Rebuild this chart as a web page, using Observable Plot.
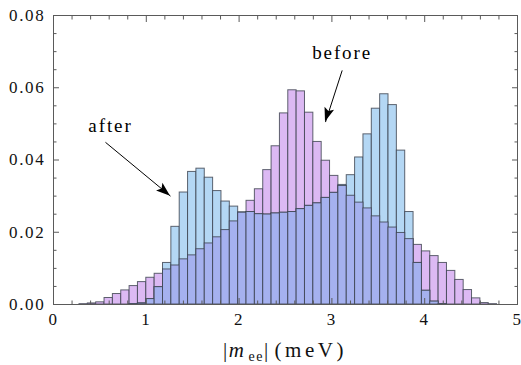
<!DOCTYPE html>
<html><head><meta charset="utf-8">
<script src="https://cdn.jsdelivr.net/npm/d3@7"></script>
<script src="https://cdn.jsdelivr.net/npm/@observablehq/plot@0.6"></script>
<style>body{margin:0;background:#fff;} svg text{font-family:"Liberation Serif","Times New Roman",serif !important;}</style>
</head><body><div id="chart"></div>
<script>
// Histogram bins (|m_ee| in meV)
const binStart = 0.28;
const binWidth = 0.09;
const before = [0.0001,0.0003,0.0006,0.0018,0.0029,0.0039,0.0051,0.0062,0.0074,0.0085,
  0.0097,0.0108,0.0125,0.0136,0.0153,0.0169,0.0186,0.0206,0.0230,0.0254,
  0.0287,0.0319,0.0372,0.0438,0.0529,0.0593,0.0590,0.0531,0.0450,0.0398,
  0.0356,0.0328,0.0301,0.0282,0.0266,0.0244,0.0227,0.0213,0.0198,0.0181,
  0.0165,0.0147,0.0134,0.0115,0.0093,0.0068,0.0040,0.0017,0.0004,0.0001];
const after = [0,0,0,0,0,0,0.0001,0.0003,0.0015,0.0048,
  0.0115,0.0215,0.0310,0.0367,0.0376,0.0351,0.0314,0.0285,0.0271,0.0255,
  0.0256,0.0250,0.0249,0.0252,0.0254,0.0256,0.0264,0.0273,0.0280,0.0295,
  0.0309,0.0331,0.0358,0.0407,0.0471,0.0542,0.0582,0.0552,0.0426,0.0256,
  0.0115,0.0038,0.0008,0.0001,0,0,0,0,0,0];

const xMajor = [0,1,2,3,4,5];
const xMinor = [0.2,0.4,0.6,0.8,1.2,1.4,1.6,1.8,2.2,2.4,2.6,2.8,3.2,3.4,3.6,3.8,4.2,4.4,4.6,4.8];
const yMajor = [0,0.02,0.04,0.06,0.08];
const yMinor = [0.005,0.01,0.015,0.025,0.03,0.035,0.045,0.05,0.055,0.065,0.07,0.075];

const annoText = ["after","before"];
const annoX = [0.614,3.11];
const annoY = [0.0494,0.0697];
const arrowX1 = [0.56,3.111];
const arrowY1 = [0.0449,0.0648];
const arrowX2 = [1.261,2.931];
const arrowY2 = [0.0300,0.0505];

const purple = "#dcb9f3", blue = "#b4d7f4", overlap = "#a5b1ef", edge = "#39404c";

const bins = before.map((b,i)=>({x1: binStart+i*binWidth, x2: binStart+(i+1)*binWidth, before: b, after: after[i], both: Math.min(b, after[i])}));
const annos = annoText.map((t,i)=>({text:t, x:annoX[i], y:annoY[i]}));
const arrows = arrowX1.map((x,i)=>({x1:x, y1:arrowY1[i], x2:arrowX2[i], y2:arrowY2[i]}));

const frameColor = "#5a5a5a";
const barOpts = {x1:"x1", x2:"x2", stroke: edge, strokeOpacity: 0.8, strokeWidth: 1};

const plot = Plot.plot({
  width: 521, height: 365,
  marginLeft: 53, marginRight: 4, marginTop: 15, marginBottom: 61,
  x: {domain:[0,5], axis:null},
  y: {domain:[0,0.08], axis:null},
  style: {fontFamily: "Liberation Serif", fontSize: "16px", color: "#111", background: "#fff"},
  marks: [
    Plot.rectY(bins, {...barOpts, y:"before", fill: purple, filter: d=>d.before>0}),
    Plot.rectY(bins, {...barOpts, y:"after", fill: blue, filter: d=>d.after>0}),
    Plot.rectY(bins, {...barOpts, y:"both", fill: overlap, filter: d=>d.both>0}),
    Plot.frame({stroke: frameColor}),
    Plot.axisX(xMajor, {anchor:"bottom", tickSize:-6, fill:"none", stroke: frameColor, label:null}),
    Plot.axisX(xMinor, {anchor:"bottom", tickSize:-3.5, fill:"none", stroke: frameColor, label:null}),
    Plot.axisX(xMajor, {anchor:"top", tickSize:-6, fill:"none", stroke: frameColor, label:null}),
    Plot.axisX(xMinor, {anchor:"top", tickSize:-3.5, fill:"none", stroke: frameColor, label:null}),
    Plot.axisX(xMajor, {anchor:"bottom", tickSize:0, tickPadding:8, label:null, tickFormat: d3.format("d"), fill:"#111", fontSize:17}),
    Plot.axisY(yMajor, {anchor:"left", tickSize:-6, fill:"none", stroke: frameColor, label:null}),
    Plot.axisY(yMinor, {anchor:"left", tickSize:-3.5, fill:"none", stroke: frameColor, label:null}),
    Plot.axisY(yMajor, {anchor:"right", tickSize:-6, fill:"none", stroke: frameColor, label:null}),
    Plot.axisY(yMinor, {anchor:"right", tickSize:-3.5, fill:"none", stroke: frameColor, label:null}),
    Plot.axisY(yMajor, {anchor:"left", tickSize:0, tickPadding:8, label:null, tickFormat: d3.format(".2f"), fill:"#111", fontSize:17}),
    Plot.link(arrows, {x1:"x1", y1:"y1", x2:"x2", y2:"y2", stroke:"#000", strokeWidth:1}),
    Plot.text(annos, {x:"x", y:"y", text:"text", fontSize:19, fill:"#000"})
  ]
});

const svg = d3.select(plot);
svg.selectAll("text").style("letter-spacing", "0.1em");
const xs = plot.scale("x"), ys = plot.scale("y");
// filled arrowheads at the arrow tips
arrows.forEach(a => {
  const x1 = xs.apply(a.x1), y1 = ys.apply(a.y1), x2 = xs.apply(a.x2), y2 = ys.apply(a.y2);
  const ang = Math.atan2(y2-y1, x2-x1);
  const L = 14, W = 5, N = 3;
  const ux = Math.cos(ang), uy = Math.sin(ang), px = -uy, py = ux;
  const pts = [[x2,y2],[x2-L*ux+W*px, y2-L*uy+W*py],[x2-(L-N)*ux, y2-(L-N)*uy],[x2-L*ux-W*px, y2-L*uy-W*py]];
  svg.append("polygon").attr("points", pts.map(p=>p.join(",")).join(" ")).attr("fill","#000");
});
// axis label |m_ee| (meV)
const [r0, r1] = xs.range;
const lab = svg.append("text")
  .attr("x", (r0+r1)/2).attr("y", 357)
  .attr("text-anchor","middle").attr("font-size", 21).attr("fill","#111")
  .style("letter-spacing","1.5px");
lab.append("tspan").text("|");
lab.append("tspan").attr("font-style","italic").text("m");
lab.append("tspan").attr("font-size",14).attr("dy",4).attr("dx",3).text("ee");
lab.append("tspan").attr("dy",-4).text("|");
lab.append("tspan").attr("dx",5).style("letter-spacing","3.5px").text("(meV)");

document.getElementById("chart").appendChild(plot);
</script>
</body></html>
